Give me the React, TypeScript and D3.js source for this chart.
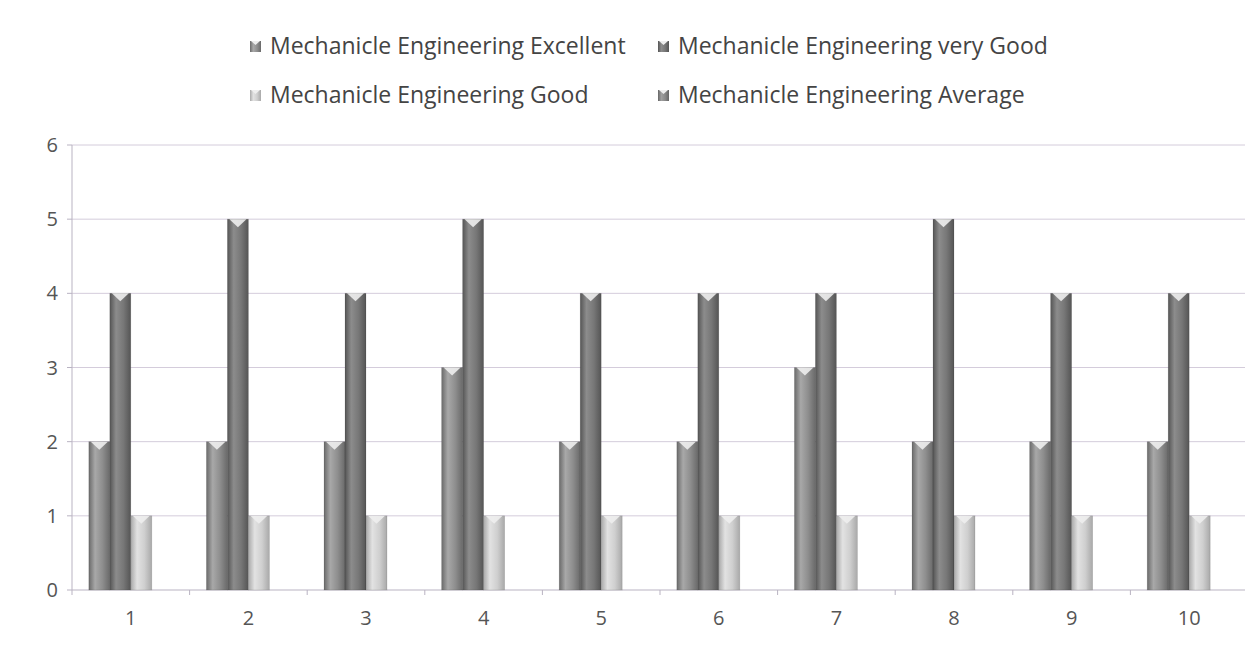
import * as d3 from 'd3';

const categories = ['1', '2', '3', '4', '5', '6', '7', '8', '9', '10'];
const seriesNames = [
  'Mechanicle Engineering Excellent',
  'Mechanicle Engineering very Good',
  'Mechanicle Engineering Good',
  'Mechanicle Engineering Average',
];
const excellent = [2, 2, 2, 3, 2, 2, 3, 2, 2, 2];
const veryGood = [4, 5, 4, 5, 4, 4, 4, 5, 4, 4];
const good = [1, 1, 1, 1, 1, 1, 1, 1, 1, 1];
const average = [0, 0, 0, 0, 0, 0, 0, 0, 0, 0];
const yTicks = [0, 1, 2, 3, 4, 5, 6];

const seriesValues = [excellent, veryGood, good, average];
// [edge, mid, highlight] per series
const shades = [
  ['#6a6a6a', '#8e8e8e', '#a8a8a8'],
  ['#555555', '#777777', '#8c8c8c'],
  ['#a9a9a9', '#cfcfcf', '#e2e2e2'],
  ['#666666', '#8a8a8a', '#a0a0a0'],
];

const W = 1253;
const H = 654;
const left = 72;
const right = 1248;
const top = 145;
const bottom = 590;
const font = "'Open Sans', 'DejaVu Sans', sans-serif";

export default function App() {
  const x = d3.scaleBand<string>().domain(categories).range([left, right]).paddingInner(0.286).paddingOuter(0.143);
  const x1 = d3.scaleBand<number>().domain(d3.range(seriesNames.length)).range([0, x.bandwidth()]);
  const y = d3.scaleLinear().domain([0, 6]).range([bottom, top]);
  const step = x.step();
  const catTicks = d3.range(categories.length + 1).map(i => left + i * step);

  return (
    <div style={{ margin: -8 }}>
      <svg width={W} height={H} style={{ display: 'block', background: '#fff' }}>
        <defs>
          {shades.map((s, i) => (
            <linearGradient key={i} id={`g${i}`} x1="0" x2="1" y1="0" y2="0">
              <stop offset="0" stopColor={s[0]} />
              <stop offset="0.3" stopColor={s[2]} />
              <stop offset="0.65" stopColor={s[1]} />
              <stop offset="1" stopColor={s[0]} />
            </linearGradient>
          ))}
        </defs>
        <line x1={0} x2={W} y1={3} y2={3} stroke="#e4e4e4" />
        {/* gridlines */}
        {yTicks.map(t => (
          <line key={t} x1={left} x2={right} y1={y(t)} y2={y(t)} stroke={t === 0 ? '#b9b3c2' : '#d4ccdb'} strokeWidth={1} />
        ))}
        {/* y axis */}
        <line x1={left} x2={left} y1={top} y2={bottom} stroke="#b9b3c2" />
        {yTicks.map(t => (
          <g key={t}>
            <line x1={left - 5} x2={left} y1={y(t)} y2={y(t)} stroke="#b9b3c2" />
            <text x={left - 14} y={y(t)} dy="0.35em" textAnchor="end" fontFamily={font} fontSize={20} fill="#555">{t}</text>
          </g>
        ))}
        {catTicks.map((cx, i) => (
          <line key={i} x1={cx} x2={cx} y1={bottom} y2={bottom + 5} stroke="#b9b3c2" />
        ))}
        {categories.map(c => (
          <text key={c} x={(x(c) as number) + x.bandwidth() / 2} y={bottom + 35} textAnchor="middle" fontFamily={font} fontSize={20} fill="#555">{c}</text>
        ))}
        {/* bars */}
        {seriesValues.map((vals, si) =>
          vals.map((v, ci) => {
            if (v <= 0) return null;
            const bx = (x(categories[ci]) as number) + (x1(si) as number);
            const bw = x1.bandwidth();
            const by = y(v);
            return (
              <g key={`${si}-${ci}`}>
                <rect x={bx} y={by} width={bw} height={bottom - by} fill={`url(#g${si})`} />
                <rect x={bx} y={by} width={bw} height={bottom - by} fill="none" stroke="#00000022" strokeWidth={0.8} />
                <path d={`M${bx + 2},${by} L${bx + bw - 2},${by} L${bx + bw / 2},${by + 8} Z`} fill="#eeeeee" opacity={0.9} />
              </g>
            );
          })
        )}
        {/* legend */}
        {seriesNames.map((name, i) => {
          const lx = i % 2 === 0 ? 250 : 658;
          const ly = i < 2 ? 46 : 95;
          return (
            <g key={name}>
              <rect x={lx} y={ly - 5} width={11} height={11} fill={`url(#g${i})`} />
              <path d={`M${lx + 1},${ly - 5} L${lx + 10},${ly - 5} L${lx + 5.5},${ly - 1} Z`} fill="#eee" />
              <text x={lx + 20} y={ly} dy="0.35em" fontFamily={font} fontSize={23} fill="#444">{name}</text>
            </g>
          );
        })}
      </svg>
    </div>
  );
}
